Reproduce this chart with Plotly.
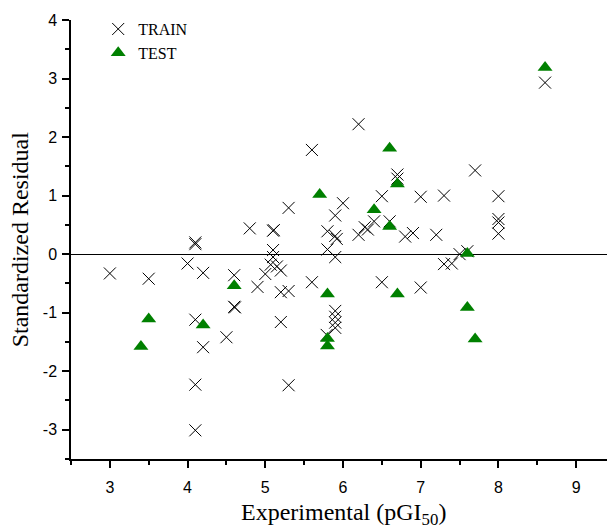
import plotly.graph_objects as go

train_x = [3.0, 3.5, 4.0, 4.1, 4.1, 4.2, 4.6, 4.6, 4.61, 4.1, 4.5, 4.2, 4.1, 4.1,
           4.8, 4.9, 5.0, 5.1, 5.11, 5.1, 5.1, 5.07, 5.15, 5.2, 5.2, 5.3, 5.2, 5.3,
           5.3, 5.6, 5.6, 5.8, 5.8, 5.79, 5.9, 5.9, 5.92, 5.9, 5.9, 5.9, 5.9, 5.9,
           6.0, 6.2, 6.2, 6.28, 6.32, 6.4, 6.5, 6.5, 6.6, 6.7, 6.7, 6.8, 6.9, 7.0,
           7.0, 7.2, 7.3, 7.3, 7.4, 7.5, 7.6, 7.7, 8.0, 8.0, 8.0, 8.0, 8.6]
train_y = [-0.33, -0.42, -0.16, 0.20, 0.17, -0.32, -0.36, -0.90, -0.91, -1.12, -1.42, -1.59, -2.23, -3.01,
           0.44, -0.56, -0.34, 0.40, 0.41, 0.07, -0.05, -0.18, -0.21, -0.28, -0.65, -0.63, -1.16, -2.24,
           0.79, 1.78, -0.48, 0.39, 0.08, -1.38, 0.66, 0.31, 0.26, -0.05, -0.97, -1.07, -1.17, -1.26,
           0.87, 2.22, 0.33, 0.46, 0.42, 0.56, 0.99, -0.48, 0.56, 1.36, 1.29, 0.30, 0.36, 0.98,
           -0.57, 0.33, 1.00, -0.17, -0.16, 0.00, 0.05, 1.43, 0.99, 0.60, 0.54, 0.35, 2.93]

test_x = [3.4, 3.5, 4.2, 4.6, 5.7, 5.8, 5.8, 5.8, 6.4, 6.6, 6.6, 6.7, 6.7, 7.6, 7.6, 7.7, 8.6]
test_y = [-1.58, -1.11, -1.21, -0.54, 1.02, -0.68, -1.44, -1.57, 0.76, 1.81, 0.47, 1.20, -0.68,
          0.01, -0.91, -1.45, 3.19]

x_ticks = [3, 4, 5, 6, 7, 8, 9]
x_tick_labels = ["3", "4", "5", "6", "7", "8", "9"]
y_ticks = [-3, -2, -1, 0, 1, 2, 3, 4]
y_tick_labels = ["-3", "-2", "-1", "0", "1", "2", "3", "4"]

serif = "Liberation Serif, DejaVu Serif, serif"
sans = "Liberation Sans, Arial, sans-serif"

fig = go.Figure()
fig.add_trace(go.Scatter(
    x=train_x, y=train_y, mode="markers", name="TRAIN",
    marker=dict(symbol="x-thin-open", size=12, color="black",
                line=dict(color="black", width=1)),
))
fig.add_trace(go.Scatter(
    x=test_x, y=test_y, mode="markers", name="TEST",
    marker=dict(symbol="triangle-up", size=13, color="#008000",
                line=dict(width=0)),
))

axis_common = dict(
    showgrid=False, showline=True, linecolor="black", linewidth=1.5,
    ticks="outside", ticklen=7, tickwidth=1.5, tickcolor="black",
    tickfont=dict(family=sans, size=16, color="black"),
    minor=dict(ticks="outside", ticklen=4, tickwidth=1.5, tickcolor="black", dtick=0.5),
    mirror=False, automargin=False,
)

fig.update_layout(
    width=607, height=522,
    margin=dict(l=63, r=0, t=12, b=71),
    plot_bgcolor="white", paper_bgcolor="white",
    showlegend=True,
    legend=dict(x=0.05, y=1.018, xanchor="left", yanchor="top",
                font=dict(family=serif, size=16, color="black"),
                bgcolor="rgba(0,0,0,0)", tracegroupgap=0, itemsizing="trace"),
    xaxis=dict(range=[2.5, 9.5], tickvals=x_ticks, ticktext=x_tick_labels, zeroline=False,
               ticklabelstandoff=6, **axis_common),
    yaxis=dict(range=[-3.5, 4], tickvals=y_ticks, ticktext=y_tick_labels, zeroline=True,
               zerolinecolor="black", zerolinewidth=1, ticklabelstandoff=2,
               **axis_common),
    annotations=[
        dict(text="Experimental (pGI<sub>50</sub>)", xref="paper", yref="paper",
             x=0.5, y=-0.125, xanchor="center", yanchor="middle", showarrow=False,
             font=dict(family=serif, size=24, color="black")),
        dict(text="Standardized Residual", xref="paper", yref="paper",
             x=-0.094, y=0.5, xanchor="center", yanchor="middle", textangle=-90,
             showarrow=False, font=dict(family=serif, size=24, color="black")),
    ],
)

fig.write_html("out.html")
